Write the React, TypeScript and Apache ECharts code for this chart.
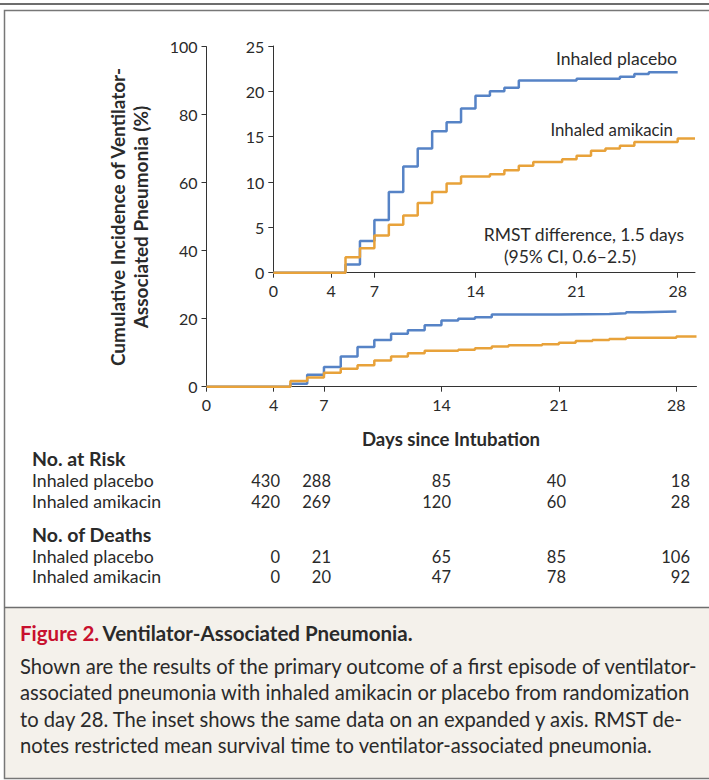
import React, { useEffect, useRef } from "react";
import * as echarts from "echarts";

// ---------- data ----------
const dayTicks = [0, 4, 7, 14, 21, 28];

const placeboDays = [0, 5, 6, 7, 8, 9, 10, 11, 12, 13, 14, 15, 16, 17, 21, 24, 25, 26, 28];
const placeboPct = [0, 0.9, 3.5, 5.8, 8.9, 11.7, 13.7, 15.6, 16.6, 18.1, 19.5, 20.0, 20.4, 21.2, 21.4, 21.6, 21.9, 22.1, 22.1];

const amikacinDays = [0, 5, 6, 7, 8, 9, 10, 11, 12, 13, 15, 16, 17, 18, 20, 21, 22, 23, 24, 25, 28, 29.2];
const amikacinPct = [0, 1.7, 2.7, 4.1, 5.3, 6.3, 7.7, 8.9, 9.85, 10.6, 10.85, 11.3, 11.8, 12.2, 12.5, 12.9, 13.45, 13.7, 14.0, 14.4, 14.8, 14.8];

const groupNames = ["Inhaled placebo", "Inhaled amikacin"];
const atRiskPlacebo = [430, 288, 85, 40, 18];
const atRiskAmikacin = [420, 269, 120, 60, 28];
const deathsPlacebo = [0, 21, 65, 85, 106];
const deathsAmikacin = [0, 20, 47, 78, 92];

const captionTitle = "Ventilator-Associated Pneumonia.";
const captionLines = [
  "Shown are the results of the primary outcome of a first episode of ventilator-",
  "associated pneumonia with inhaled amikacin or placebo from randomization",
  "to day 28. The inset shows the same data on an expanded y axis. RMST de-",
  "notes restricted mean survival time to ventilator-associated pneumonia.",
];

// ---------- style ----------
const FF = "Lato, 'Noto Sans', sans-serif";
const BLUE = "#5683c6";
const ORANGE = "#e8a23a";
const AXIS = "#333333";
const TXT = "#2a2a2a";

const zip = (xs: number[], ys: number[]) => xs.map((x, i) => [x, ys[i]]);

export default function App() {
  const ref = useRef<HTMLDivElement>(null);

  useEffect(() => {
    document.body.style.margin = "0";
    const chart = echarts.init(ref.current!, null, { renderer: "svg" });

    const xAxisCommon = (gridIndex: number, margin: number) => ({
      gridIndex,
      type: "value",
      min: 0,
      max: 29.2,
      axisLine: { show: true, onZero: false, lineStyle: { color: AXIS, width: 1 } },
      axisTick: { show: true, length: 5, customValues: dayTicks, lineStyle: { color: AXIS } },
      axisLabel: { customValues: dayTicks, margin, fontSize: 16, color: TXT, fontFamily: FF },
      splitLine: { show: false },
    });
    const yAxisCommon = (gridIndex: number, max: number, interval: number) => ({
      gridIndex,
      type: "value",
      min: 0,
      max,
      interval,
      axisLine: { show: true, lineStyle: { color: AXIS, width: 1 } },
      axisTick: { show: true, length: 5, lineStyle: { color: AXIS } },
      axisLabel: { margin: 9, fontSize: 16, color: TXT, fontFamily: FF },
      splitLine: { show: false },
    });

    const lineSeries = (name: string, data: number[][], color: string, idx: number) => ({
      name,
      type: "line",
      step: "end",
      xAxisIndex: idx,
      yAxisIndex: idx,
      data,
      showSymbol: false,
      clip: false,
      lineStyle: { color, width: 2.5 },
      z: 3,
    });

    const tableRowsY = [480.5, 501.5, 556.5, 576.5];
    const colRight = [280, 331, 451, 566, 690];
    const rowData = [atRiskPlacebo, atRiskAmikacin, deathsPlacebo, deathsAmikacin];
    const rowNames = [groupNames[0], groupNames[1], groupNames[0], groupNames[1]];

    const tableTexts: any[] = [];
    rowData.forEach((vals, r) => {
      tableTexts.push({
        type: "text",
        x: 32,
        y: tableRowsY[r],
        style: { text: rowNames[r], font: `17.7px ${FF}`, fill: TXT, textAlign: "left", textVerticalAlign: "middle" },
      });
      vals.forEach((v, c) => {
        tableTexts.push({
          type: "text",
          x: colRight[c],
          y: tableRowsY[r],
          style: { text: String(v), font: `16.5px ${FF}`, fill: TXT, textAlign: "right", textVerticalAlign: "middle" },
        });
      });
    });

    const option: any = {
      animation: false,
      grid: [
        { left: 206.5, top: 46.7, width: 490, height: 340 },
        { left: 273.3, top: 46, width: 421.7, height: 226.7 },
      ],
      xAxis: [xAxisCommon(0, 10), xAxisCommon(1, 10)],
      yAxis: [yAxisCommon(0, 100, 20), yAxisCommon(1, 25, 5)],
      series: [
        lineSeries("Inhaled placebo", zip(placeboDays, placeboPct), BLUE, 0),
        lineSeries("Inhaled amikacin", zip(amikacinDays, amikacinPct), ORANGE, 0),
        lineSeries("Inhaled placebo (inset)", zip(placeboDays, placeboPct), BLUE, 1),
        lineSeries("Inhaled amikacin (inset)", zip(amikacinDays, amikacinPct), ORANGE, 1),
      ],
      graphic: [
        // caption background & frame
        { type: "rect", z: -10, shape: { x: 5, y: 608, width: 710, height: 170 }, style: { fill: "#f4f1eb" } },
        { type: "line", shape: { x1: 0, y1: 4, x2: 709, y2: 4 }, style: { stroke: "#3c3c3c", lineWidth: 1.5 } },
        { type: "rect", shape: { x: 4.5, y: 10.5, width: 720, height: 768 }, style: { fill: "none", stroke: "#777777", lineWidth: 1.5 } },
        { type: "line", shape: { x1: 4.5, y1: 607.5, x2: 709, y2: 607.5 }, style: { stroke: "#6e6e6e", lineWidth: 1.5 } },
        // y-axis title
        {
          type: "text",
          x: 117,
          y: 217,
          rotation: Math.PI / 2,
          style: { text: "Cumulative Incidence of Ventilator-", font: `bold 19px ${FF}`, fill: TXT, textAlign: "center", textVerticalAlign: "middle" },
        },
        {
          type: "text",
          x: 140,
          y: 217,
          rotation: Math.PI / 2,
          style: { text: "Associated Pneumonia (%)", font: `bold 19px ${FF}`, fill: TXT, textAlign: "center", textVerticalAlign: "middle" },
        },
        // x-axis title
        {
          type: "text",
          x: 451,
          y: 439,
          style: { text: "Days since Intubation", font: `bold 18.6px ${FF}`, fill: TXT, textAlign: "center", textVerticalAlign: "middle" },
        },
        // inset annotations
        { type: "text", x: 677, y: 58, style: { text: groupNames[0], font: `17.6px ${FF}`, fill: TXT, textAlign: "right", textVerticalAlign: "middle" } },
        { type: "text", x: 673, y: 129, style: { text: groupNames[1], font: `16.8px ${FF}`, fill: TXT, textAlign: "right", textVerticalAlign: "middle" } },
        { type: "text", x: 684, y: 234, style: { text: "RMST difference, 1.5 days", font: `17.5px ${FF}`, fill: TXT, textAlign: "right", textVerticalAlign: "middle" } },
        { type: "text", x: 570, y: 256.5, style: { text: "(95% CI, 0.6–2.5)", font: `17.5px ${FF}`, fill: TXT, textAlign: "center", textVerticalAlign: "middle" } },
        // table headers
        { type: "text", x: 32, y: 458, style: { text: "No. at Risk", font: `bold 19.5px ${FF}`, fill: TXT, textAlign: "left", textVerticalAlign: "middle" } },
        { type: "text", x: 32, y: 534, style: { text: "No. of Deaths", font: `bold 19.5px ${FF}`, fill: TXT, textAlign: "left", textVerticalAlign: "middle" } },
        ...tableTexts,
        // caption
        {
          type: "text",
          x: 20,
          y: 633,
          style: {
            text: "{r|Figure 2.} {b|" + captionTitle + "}",
            textAlign: "left",
            textVerticalAlign: "middle",
            rich: {
              r: { fill: "#c8102e", fontFamily: FF, fontSize: 20.5, fontWeight: "bold" },
              b: { fill: TXT, fontFamily: FF, fontSize: 20.5, fontWeight: "bold" },
            },
          },
        },
        ...captionLines.map((t, i) => ({
          type: "text",
          x: 20,
          y: 666 + i * 26.4,
          style: { text: t, font: `20.2px ${FF}`, fill: TXT, textAlign: "left", textVerticalAlign: "middle" },
        })),
      ],
    };

    chart.setOption(option);
    return () => chart.dispose();
  }, []);

  return <div ref={ref} style={{ width: 709, height: 780 }} />;
}
